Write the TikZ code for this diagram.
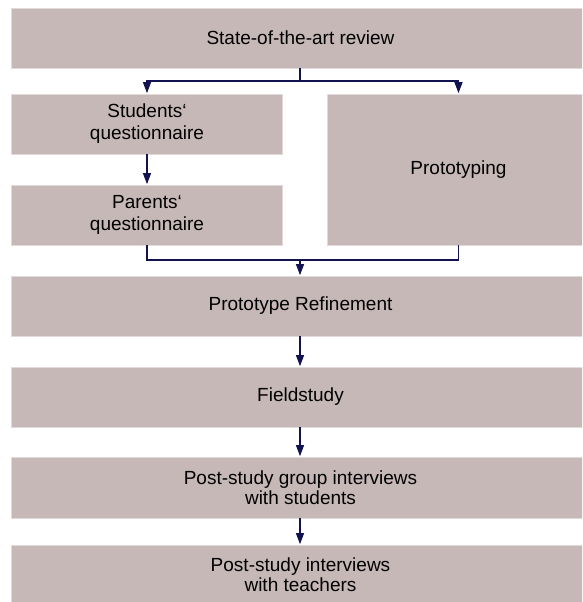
\documentclass[tikz,border=0pt]{standalone}
\usepackage{fontspec}
\setmainfont{Liberation Sans}
\usetikzlibrary{arrows.meta}
\definecolor{boxfill}{RGB}{199,184,184}
\definecolor{boxedge}{RGB}{226,218,218}
\definecolor{linkcol}{RGB}{18,18,78}
\tikzset{
  stagebox/.style={rectangle, fill=boxfill, draw=boxedge, line width=0.7pt,
    inner sep=0pt, align=center, font=\fontsize{19}{22}\selectfont},
  link/.style={draw=linkcol, line width=1.1pt},
  arrowlink/.style={link, -{Triangle[width=8pt,length=11pt]}, shorten >=0.5pt}
}
\begin{document}
\begin{tikzpicture}[x=1pt,y=-1pt]
\useasboundingbox (0,0) rectangle (582,602);
\clip (0,0) rectangle (582,602);
\fill[white] (0,0) rectangle (582,602);

\node[stagebox, minimum width=578pt, minimum height=60pt] (review) at (300.5,38) {State-of-the-art review};
\node[stagebox, minimum width=271pt, minimum height=60pt] (students) at (147,124) {Students‘\\questionnaire};
\node[stagebox, minimum width=271pt, minimum height=60pt] (parents) at (147,215) {Parents‘\\questionnaire};
\node[stagebox, minimum width=263pt, minimum height=151pt] (proto) at (458.5,169.5) {Prototyping};
\node[stagebox, minimum width=578pt, minimum height=60pt] (refine) at (300.5,306) {Prototype Refinement};
\node[stagebox, minimum width=578pt, minimum height=60pt] (field) at (300.5,397) {Fieldstudy};
\node[stagebox, minimum width=578pt, minimum height=61pt, font=\fontsize{19}{19.5}\selectfont] (group) at (300.5,487.5) {Post-study group interviews\\with students};
\node[stagebox, minimum width=578pt, minimum height=60pt, font=\fontsize{19}{20}\selectfont] (teachers) at (300.5,575) {Post-study interviews\\with teachers};

\coordinate (split) at (300,81);
\coordinate (merge) at (300,260);

\draw[link] (review.south -| split) -- (split);
\draw[arrowlink] (split) -| (students.north);
\draw[arrowlink] (split) -| (proto.north);
\draw[arrowlink] (students) -- (parents);
\draw[link] (parents.south) |- (merge);
\draw[link] (proto.south) |- (merge);
\draw[arrowlink] (merge) -- (merge |- refine.north);
\draw[arrowlink] (refine.south -| merge) -- (field.north -| merge);
\draw[arrowlink] (field.south -| merge) -- (group.north -| merge);
\draw[arrowlink] (group.south -| merge) -- (teachers.north -| merge);
\end{tikzpicture}
\end{document}
